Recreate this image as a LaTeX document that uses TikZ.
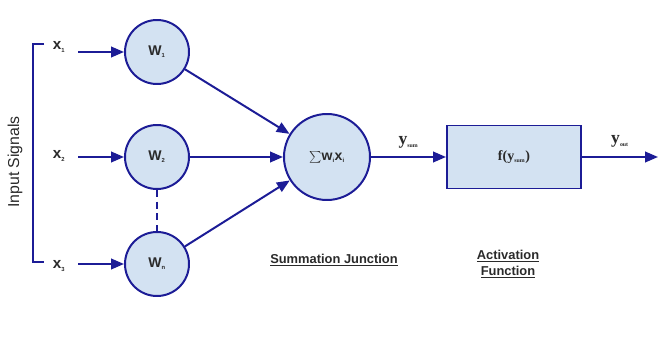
\documentclass[tikz,border=0pt]{standalone}
\usepackage{fontspec}
\setmainfont{Liberation Serif}
\setsansfont{Liberation Sans}
\usetikzlibrary{arrows.meta}

\definecolor{navy}{HTML}{1C1C96}
\definecolor{cellfill}{HTML}{D3E2F2}
\definecolor{txt}{HTML}{2A2A2A}

\tikzset{
  wire/.style={draw=navy,line width=1.7pt},
  arr/.style={wire,-{Triangle[length=11pt,width=9pt]}},
  weight/.style={circle,draw=navy,line width=1.7pt,fill=cellfill,minimum size=64*0.03cm,inner sep=0pt,
    text=txt,font=\sffamily\bfseries\fontsize{12}{13}\selectfont},
  lbl/.style={text=txt,font=\sffamily\bfseries\fontsize{13}{14}\selectfont,inner sep=1pt},
  caption/.style={text=txt,font=\sffamily\bfseries\fontsize{11}{13}\selectfont,align=center}
}

\begin{document}
\begin{tikzpicture}[x=0.03cm,y=-0.03cm]
  \useasboundingbox (0,0) rectangle (659,341) ;
  % inputs
  \node[lbl] (x1) at (59,47) {x\textsubscript{\tiny 1}} ;
  \node[lbl] (x2) at (59,156) {x\textsubscript{\tiny 2}} ;
  \node[lbl] (x3) at (59,266) {x\textsubscript{\tiny 3}} ;
  \node[rotate=90,text=txt,font=\sffamily\fontsize{13.5}{14}\selectfont] (insig) at (15,162) {Input Signals} ;
  \coordinate (b1) at (44,44) ;
  \coordinate (b3) at (44,262) ;
  \draw[wire] (b1) -- (33,44) -- (33,262) -- (b3) ;
  % weights
  \node[weight] (w1) at (157,52) {W\textsubscript{\tiny 1}} ;
  \node[weight] (w2) at (157,157) {W\textsubscript{\tiny 2}} ;
  \node[weight] (wn) at (157,264) {W\textsubscript{\tiny n}} ;
  \coordinate (a1) at (78,52) ;
  \coordinate (a2) at (78,157) ;
  \coordinate (a3) at (78,264) ;
  \draw[arr] (a1) -- (w1) ;
  \draw[arr] (a2) -- (w2) ;
  \draw[arr] (a3) -- (wn) ;
  \draw[wire,dash pattern=on 6pt off 4pt] (w2) -- (wn) ;
  % summation junction
  \node[circle,draw=navy,line width=1.7pt,fill=cellfill,minimum size=86*0.03cm,inner sep=0pt,
    text=txt,font=\sffamily\fontsize{12}{13}\selectfont] (sum) at (327,157)
    {$\sum$\textbf{w\textsubscript{\tiny i}x\textsubscript{\tiny i}}} ;
  \draw[arr] (w1) -- (sum) ;
  \draw[arr] (w2) -- (sum) ;
  \draw[arr] (wn) -- (sum) ;
  % activation
  \node[draw=navy,line width=1.7pt,fill=cellfill,minimum width=134*0.03cm,minimum height=63*0.03cm,
    text=txt,font=\bfseries\fontsize{12}{13}\selectfont] (act) at (514,157)
    {f(y\textsubscript{\tiny sum})} ;
  \draw[arr] (sum) -- (act) node[midway,above=3pt,text=txt,font=\bfseries\fontsize{15}{16}\selectfont] (ysum) {y\textsubscript{\tiny sum}} ;
  \coordinate (out) at (658,157) ;
  \draw[arr] (act) -- (out) node[midway,above=4pt,text=txt,font=\bfseries\fontsize{15}{16}\selectfont] (yout) {y\textsubscript{\tiny out}} ;
  % captions
  \node[caption] (sumcap) at (334,260) {\underline{Summation Junction}} ;
  \node[caption] (actcap) at (508,264) {\underline{Activation}\\[0pt]\underline{Function}} ;
\end{tikzpicture}
\end{document}
